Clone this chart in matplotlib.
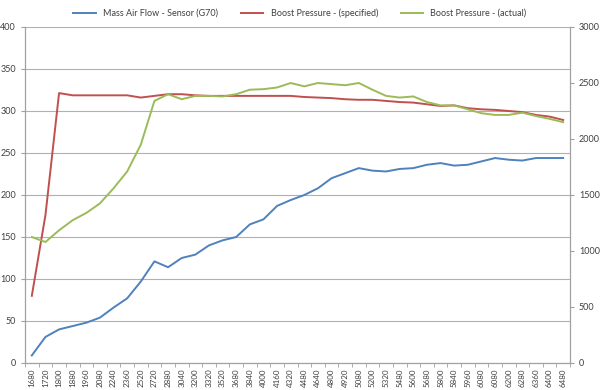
import numpy as np
import matplotlib.pyplot as plt

plt.rcParams['font.family'] = ['Lato', 'DejaVu Sans']

# RPM (categorías del eje x)
rpm = ["1680", "1720", "1800", "1880", "1960", "2080", "2240", "2360", "2520", "2720",
       "2880", "3040", "3200", "3320", "3520", "3680", "3840", "4000", "4160", "4320",
       "4480", "4640", "4800", "4920", "5080", "5200", "5320", "5480", "5600", "5680",
       "5800", "5840", "5960", "6080", "6080", "6200", "6280", "6360", "6400", "6480"]

# Mass air flow (eje izquierdo)
maf = [9, 31, 40, 44, 48, 54, 66, 77, 97, 121,
       114, 125, 129, 140, 146, 150, 165, 171, 187, 194,
       200, 208, 220, 226, 232, 229, 228, 231, 232, 236,
       238, 235, 236, 240, 244, 242, 241, 244, 244, 244]

# Boost especificado / real (eje derecho, mbar)
boost_spec = [600, 1320, 2410, 2390, 2390, 2390, 2390, 2390, 2370, 2385,
              2400, 2400, 2390, 2385, 2385, 2385, 2385, 2385, 2385, 2385,
              2375, 2370, 2365, 2355, 2350, 2350, 2340, 2330, 2325, 2310,
              2295, 2300, 2275, 2265, 2260, 2250, 2240, 2215, 2200, 2170]
boost_act = [1125, 1080, 1185, 1275, 1340, 1425, 1560, 1710, 1950, 2340,
             2400, 2355, 2385, 2385, 2380, 2400, 2440, 2445, 2460, 2500,
             2470, 2500, 2490, 2480, 2500, 2440, 2385, 2370, 2380, 2330,
             2300, 2300, 2265, 2230, 2215, 2215, 2235, 2205, 2180, 2150]

x = np.arange(len(rpm))
grey = '#A0A0A0'
txt = '#404040'

fig = plt.figure(figsize=(6, 3.9), dpi=100)
ax = fig.add_axes([25 / 600, 1 - 363 / 390, 545 / 600, 336 / 390])
ax2 = ax.twinx()

l1, = ax.plot(x, maf, color='#4F81BD', lw=1.4, label="Mass Air Flow - Sensor (G70)")
l2, = ax2.plot(x, boost_spec, color='#C0504D', lw=1.4, label="Boost Pressure - (specified)")
l3, = ax2.plot(x, boost_act, color='#9BBB59', lw=1.4, label="Boost Pressure - (actual)")

ax.set_xlim(-0.5, len(rpm) - 0.5)
ax.set_ylim(0, 400)
ax.set_yticks(np.arange(0, 401, 50))
ax2.set_ylim(0, 3000)
ax2.set_yticks(np.arange(0, 3001, 500))

ax.set_xticks(x)
ax.set_xticklabels(rpm, rotation=90, fontsize=5.8, color=txt)
ax.set_xticks(np.arange(-0.5, len(rpm), 1), minor=True)
ax.tick_params(axis='x', which='major', length=0, pad=4)
ax.tick_params(axis='x', which='minor', length=3, color=grey)
ax.tick_params(axis='y', labelsize=6.5, colors=txt, length=3, color=grey)
ax2.tick_params(axis='y', labelsize=6.5, colors=txt, length=3, color=grey)

ax.grid(axis='y', color='#B0B0B0', lw=0.8)
ax.set_axisbelow(True)
for a in (ax, ax2):
    a.spines['top'].set_visible(False)
    for s in ('left', 'right', 'bottom'):
        a.spines[s].set_color(grey)
        a.spines[s].set_linewidth(0.8)

fig.legend(handles=[l1, l2, l3], loc='upper center', bbox_to_anchor=(0.5, 1.0),
           ncol=3, frameon=False, fontsize=6.5, handlelength=2.5, columnspacing=2.5,
           labelcolor=txt)

fig.savefig("out.png", dpi=100)
